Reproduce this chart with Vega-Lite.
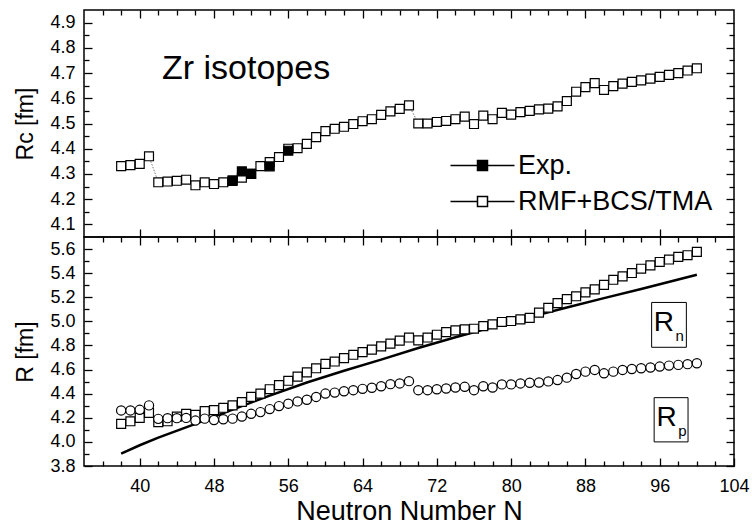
{
  "$schema": "https://vega.github.io/schema/vega-lite/v6.json",
  "padding": {"left": 14, "top": 8, "right": 5, "bottom": 5},
  "bounds": "flush",
  "config": {
    "font": "Liberation Sans",
    "view": {"stroke": "black", "strokeWidth": 1.5},
    "axis": {"domain": false, "grid": false, "tickColor": "black", "tickWidth": 1.3, "labelColor": "black", "labelFontSize": 18, "labelFont": "Liberation Sans", "titleFont": "Liberation Sans", "titleFontWeight": "normal", "titleColor": "black", "titleFontSize": 23, "labelFlush": false, "labelOverlap": false, "minExtent": 0}
  },
  "datasets": {
    "rc": [
      {"N": 38, "Rc": 4.331, "series": "RMF+BCS/TMA"}, {"N": 39, "Rc": 4.335, "series": "RMF+BCS/TMA"}, {"N": 40, "Rc": 4.34, "series": "RMF+BCS/TMA"}, {"N": 41, "Rc": 4.37, "series": "RMF+BCS/TMA"},
      {"N": 42, "Rc": 4.267, "series": "RMF+BCS/TMA"}, {"N": 43, "Rc": 4.27, "series": "RMF+BCS/TMA"}, {"N": 44, "Rc": 4.273, "series": "RMF+BCS/TMA"}, {"N": 45, "Rc": 4.277, "series": "RMF+BCS/TMA"},
      {"N": 46, "Rc": 4.255, "series": "RMF+BCS/TMA"}, {"N": 47, "Rc": 4.267, "series": "RMF+BCS/TMA"}, {"N": 48, "Rc": 4.26, "series": "RMF+BCS/TMA"}, {"N": 49, "Rc": 4.267, "series": "RMF+BCS/TMA"},
      {"N": 50, "Rc": 4.275, "series": "RMF+BCS/TMA"}, {"N": 51, "Rc": 4.285, "series": "RMF+BCS/TMA"}, {"N": 52, "Rc": 4.3, "series": "RMF+BCS/TMA"}, {"N": 53, "Rc": 4.331, "series": "RMF+BCS/TMA"},
      {"N": 54, "Rc": 4.347, "series": "RMF+BCS/TMA"}, {"N": 55, "Rc": 4.367, "series": "RMF+BCS/TMA"}, {"N": 56, "Rc": 4.4, "series": "RMF+BCS/TMA"}, {"N": 57, "Rc": 4.402, "series": "RMF+BCS/TMA"},
      {"N": 58, "Rc": 4.419, "series": "RMF+BCS/TMA"}, {"N": 59, "Rc": 4.446, "series": "RMF+BCS/TMA"}, {"N": 60, "Rc": 4.47, "series": "RMF+BCS/TMA"}, {"N": 61, "Rc": 4.479, "series": "RMF+BCS/TMA"},
      {"N": 62, "Rc": 4.487, "series": "RMF+BCS/TMA"}, {"N": 63, "Rc": 4.498, "series": "RMF+BCS/TMA"}, {"N": 64, "Rc": 4.509, "series": "RMF+BCS/TMA"}, {"N": 65, "Rc": 4.517, "series": "RMF+BCS/TMA"},
      {"N": 66, "Rc": 4.534, "series": "RMF+BCS/TMA"}, {"N": 67, "Rc": 4.548, "series": "RMF+BCS/TMA"}, {"N": 68, "Rc": 4.558, "series": "RMF+BCS/TMA"}, {"N": 69, "Rc": 4.572, "series": "RMF+BCS/TMA"},
      {"N": 70, "Rc": 4.5, "series": "RMF+BCS/TMA"}, {"N": 71, "Rc": 4.5, "series": "RMF+BCS/TMA"}, {"N": 72, "Rc": 4.506, "series": "RMF+BCS/TMA"}, {"N": 73, "Rc": 4.51, "series": "RMF+BCS/TMA"},
      {"N": 74, "Rc": 4.517, "series": "RMF+BCS/TMA"}, {"N": 75, "Rc": 4.527, "series": "RMF+BCS/TMA"}, {"N": 76, "Rc": 4.498, "series": "RMF+BCS/TMA"}, {"N": 77, "Rc": 4.531, "series": "RMF+BCS/TMA"},
      {"N": 78, "Rc": 4.517, "series": "RMF+BCS/TMA"}, {"N": 79, "Rc": 4.542, "series": "RMF+BCS/TMA"}, {"N": 80, "Rc": 4.535, "series": "RMF+BCS/TMA"}, {"N": 81, "Rc": 4.545, "series": "RMF+BCS/TMA"},
      {"N": 82, "Rc": 4.55, "series": "RMF+BCS/TMA"}, {"N": 83, "Rc": 4.556, "series": "RMF+BCS/TMA"}, {"N": 84, "Rc": 4.559, "series": "RMF+BCS/TMA"}, {"N": 85, "Rc": 4.568, "series": "RMF+BCS/TMA"},
      {"N": 86, "Rc": 4.589, "series": "RMF+BCS/TMA"}, {"N": 87, "Rc": 4.626, "series": "RMF+BCS/TMA"}, {"N": 88, "Rc": 4.644, "series": "RMF+BCS/TMA"}, {"N": 89, "Rc": 4.66, "series": "RMF+BCS/TMA"},
      {"N": 90, "Rc": 4.633, "series": "RMF+BCS/TMA"}, {"N": 91, "Rc": 4.648, "series": "RMF+BCS/TMA"}, {"N": 92, "Rc": 4.658, "series": "RMF+BCS/TMA"}, {"N": 93, "Rc": 4.665, "series": "RMF+BCS/TMA"},
      {"N": 94, "Rc": 4.671, "series": "RMF+BCS/TMA"}, {"N": 95, "Rc": 4.678, "series": "RMF+BCS/TMA"}, {"N": 96, "Rc": 4.685, "series": "RMF+BCS/TMA"}, {"N": 97, "Rc": 4.693, "series": "RMF+BCS/TMA"},
      {"N": 98, "Rc": 4.7, "series": "RMF+BCS/TMA"}, {"N": 99, "Rc": 4.71, "series": "RMF+BCS/TMA"}, {"N": 100, "Rc": 4.719, "series": "RMF+BCS/TMA"}
    ],
    "rcexp": [
      {"N": 50, "Rc": 4.272, "series": "Exp."}, {"N": 51, "Rc": 4.31, "series": "Exp."}, {"N": 52, "Rc": 4.3, "series": "Exp."}, {"N": 54, "Rc": 4.33, "series": "Exp."}, {"N": 56, "Rc": 4.392, "series": "Exp."}
    ],
    "rn": [
      {"N": 38, "R": 4.149}, {"N": 39, "R": 4.171}, {"N": 40, "R": 4.199}, {"N": 41, "R": 4.241}, {"N": 42, "R": 4.163}, {"N": 43, "R": 4.171}, {"N": 44, "R": 4.21}, {"N": 45, "R": 4.233},
      {"N": 46, "R": 4.224}, {"N": 47, "R": 4.255}, {"N": 48, "R": 4.264}, {"N": 49, "R": 4.283}, {"N": 50, "R": 4.303}, {"N": 51, "R": 4.331}, {"N": 52, "R": 4.373}, {"N": 53, "R": 4.401},
      {"N": 54, "R": 4.437}, {"N": 55, "R": 4.471}, {"N": 56, "R": 4.507}, {"N": 57, "R": 4.541}, {"N": 58, "R": 4.577}, {"N": 59, "R": 4.611}, {"N": 60, "R": 4.647}, {"N": 61, "R": 4.667},
      {"N": 62, "R": 4.695}, {"N": 63, "R": 4.723}, {"N": 64, "R": 4.745}, {"N": 65, "R": 4.765}, {"N": 66, "R": 4.793}, {"N": 67, "R": 4.815}, {"N": 68, "R": 4.84}, {"N": 69, "R": 4.866},
      {"N": 70, "R": 4.842}, {"N": 71, "R": 4.866}, {"N": 72, "R": 4.889}, {"N": 73, "R": 4.911}, {"N": 74, "R": 4.925}, {"N": 75, "R": 4.933}, {"N": 76, "R": 4.939}, {"N": 77, "R": 4.961},
      {"N": 78, "R": 4.975}, {"N": 79, "R": 4.995}, {"N": 80, "R": 5.003}, {"N": 81, "R": 5.017}, {"N": 82, "R": 5.029}, {"N": 83, "R": 5.073}, {"N": 84, "R": 5.113}, {"N": 85, "R": 5.151},
      {"N": 86, "R": 5.185}, {"N": 87, "R": 5.208}, {"N": 88, "R": 5.241}, {"N": 89, "R": 5.265}, {"N": 90, "R": 5.303}, {"N": 91, "R": 5.345}, {"N": 92, "R": 5.373}, {"N": 93, "R": 5.401},
      {"N": 94, "R": 5.437}, {"N": 95, "R": 5.465}, {"N": 96, "R": 5.493}, {"N": 97, "R": 5.513}, {"N": 98, "R": 5.535}, {"N": 99, "R": 5.549}, {"N": 100, "R": 5.577}
    ],
    "rp": [
      {"N": 38, "R": 4.261}, {"N": 39, "R": 4.261}, {"N": 40, "R": 4.266}, {"N": 41, "R": 4.303}, {"N": 42, "R": 4.191}, {"N": 43, "R": 4.197}, {"N": 44, "R": 4.197}, {"N": 45, "R": 4.199},
      {"N": 46, "R": 4.177}, {"N": 47, "R": 4.193}, {"N": 48, "R": 4.182}, {"N": 49, "R": 4.188}, {"N": 50, "R": 4.193}, {"N": 51, "R": 4.21}, {"N": 52, "R": 4.233}, {"N": 53, "R": 4.247},
      {"N": 54, "R": 4.272}, {"N": 55, "R": 4.297}, {"N": 56, "R": 4.317}, {"N": 57, "R": 4.336}, {"N": 58, "R": 4.35}, {"N": 59, "R": 4.373}, {"N": 60, "R": 4.401}, {"N": 61, "R": 4.409},
      {"N": 62, "R": 4.42}, {"N": 63, "R": 4.429}, {"N": 64, "R": 4.44}, {"N": 65, "R": 4.449}, {"N": 66, "R": 4.462}, {"N": 67, "R": 4.479}, {"N": 68, "R": 4.485}, {"N": 69, "R": 4.504},
      {"N": 70, "R": 4.429}, {"N": 71, "R": 4.429}, {"N": 72, "R": 4.437}, {"N": 73, "R": 4.443}, {"N": 74, "R": 4.451}, {"N": 75, "R": 4.457}, {"N": 76, "R": 4.429}, {"N": 77, "R": 4.462},
      {"N": 78, "R": 4.451}, {"N": 79, "R": 4.477}, {"N": 80, "R": 4.477}, {"N": 81, "R": 4.485}, {"N": 82, "R": 4.491}, {"N": 83, "R": 4.493}, {"N": 84, "R": 4.502}, {"N": 85, "R": 4.513},
      {"N": 86, "R": 4.533}, {"N": 87, "R": 4.563}, {"N": 88, "R": 4.583}, {"N": 89, "R": 4.597}, {"N": 90, "R": 4.569}, {"N": 91, "R": 4.583}, {"N": 92, "R": 4.597}, {"N": 93, "R": 4.605},
      {"N": 94, "R": 4.611}, {"N": 95, "R": 4.617}, {"N": 96, "R": 4.625}, {"N": 97, "R": 4.633}, {"N": 98, "R": 4.639}, {"N": 99, "R": 4.645}, {"N": 100, "R": 4.653}
    ],
    "empirical": [
      {"N": 38, "R": 3.903}, {"N": 40, "R": 3.972}, {"N": 42, "R": 4.035}, {"N": 46, "R": 4.15}, {"N": 50, "R": 4.268}, {"N": 54, "R": 4.384}, {"N": 58, "R": 4.493}, {"N": 62, "R": 4.59},
      {"N": 66, "R": 4.683}, {"N": 70, "R": 4.779}, {"N": 74, "R": 4.868}, {"N": 78, "R": 4.952}, {"N": 82, "R": 5.035}, {"N": 86, "R": 5.115}, {"N": 90, "R": 5.193}, {"N": 94, "R": 5.268}, {"N": 100, "R": 5.387}
    ]
  },
  "spacing": 0,
  "vconcat": [
    {
      "width": 650,
      "height": 227,
      "resolve": {"axis": {"x": "independent", "y": "independent"}},
      "layer": [
        {
          "data": {"name": "rc"},
          "mark": {"type": "line", "stroke": "#555555", "strokeWidth": 0.8, "strokeDash": [1.5, 1.5]},
          "encoding": {
            "x": {"field": "N", "type": "quantitative", "scale": {"domain": [34, 104], "nice": false, "zero": false},
              "axis": {"orient": "bottom", "values": [40, 48, 56, 64, 72, 80, 88, 96], "tickSize": -8, "labels": false, "title": null}},
            "y": {"field": "Rc", "type": "quantitative", "scale": {"domain": [4.05, 4.95], "nice": false, "zero": false},
              "axis": {"orient": "left", "values": [4.1, 4.15, 4.2, 4.25, 4.3, 4.35, 4.4, 4.45, 4.5, 4.55, 4.6, 4.65, 4.7, 4.75, 4.8, 4.85, 4.9],
                "tickSize": {"condition": {"test": "round(datum.value*100) % 10 === 0", "value": -8}, "value": -5},
                "labelExpr": "round(datum.value*100) % 10 === 0 ? format(datum.value, '.1f') : ''",
                "labelPadding": 17, "title": "Rc [fm]", "titlePadding": 12}}
          }
        },
        {
          "data": {"name": "rc"},
          "mark": {"type": "square", "size": 80, "stroke": "black", "strokeWidth": 1.2, "opacity": 1},
          "encoding": {
            "x": {"field": "N", "type": "quantitative", "scale": {"domain": [34, 104], "nice": false, "zero": false},
              "axis": {"orient": "top", "values": [36, 38, 40, 42, 44, 46, 48, 50, 52, 54, 56, 58, 60, 62, 64, 66, 68, 70, 72, 74, 76, 78, 80, 82, 84, 86, 88, 90, 92, 94, 96, 98, 100, 102],
                "tickSize": {"condition": {"test": "datum.value % 8 === 0", "value": -8}, "value": -5}, "labels": false, "title": null}},
            "y": {"field": "Rc", "type": "quantitative", "scale": {"domain": [4.05, 4.95], "nice": false, "zero": false},
              "axis": {"orient": "right", "values": [4.1, 4.15, 4.2, 4.25, 4.3, 4.35, 4.4, 4.45, 4.5, 4.55, 4.6, 4.65, 4.7, 4.75, 4.8, 4.85, 4.9],
                "tickSize": {"condition": {"test": "round(datum.value*100) % 10 === 0", "value": -8}, "value": -5}, "labels": false, "title": null}},
            "fill": {"field": "series", "type": "nominal", "scale": {"domain": ["Exp.", "RMF+BCS/TMA"], "range": ["black", "white"]},
              "legend": {"title": null, "orient": "none", "legendX": 385, "legendY": 142,
                "symbolType": "M-6.4,0H-1M1,0H6.4M-1,-1H1V1H-1Z", "symbolSize": 100, "symbolStrokeColor": "black", "symbolStrokeWidth": 1.5,
                "labelFontSize": 27, "labelFont": "Liberation Sans", "labelColor": "black", "labelOffset": 22, "rowPadding": 8, "labelLimit": 400,
                "encode": {"symbols": {"update": {"stroke": {"value": "black"}, "strokeWidth": {"signal": "datum.value === 'Exp.' ? 2.5 : 1"}}}}}}
          }
        },
        {
          "data": {"name": "rcexp"},
          "mark": {"type": "square", "size": 80, "stroke": "black", "strokeWidth": 1.2, "opacity": 1},
          "encoding": {
            "x": {"field": "N", "type": "quantitative", "axis": null},
            "y": {"field": "Rc", "type": "quantitative", "axis": null},
            "fill": {"field": "series", "type": "nominal"}
          }
        },
        {
          "data": {"values": [{}]},
          "mark": {"type": "text", "fontSize": 34, "font": "Liberation Sans", "align": "left", "baseline": "alphabetic", "color": "black"},
          "encoding": {
            "x": {"datum": 42.4, "type": "quantitative", "axis": null},
            "y": {"datum": 4.678, "type": "quantitative", "axis": null},
            "text": {"value": "Zr isotopes"}
          }
        }
      ]
    },
    {
      "width": 650,
      "height": 229,
      "resolve": {"axis": {"x": "independent", "y": "independent"}},
      "layer": [
        {
          "data": {"name": "empirical"},
          "mark": {"type": "line", "stroke": "black", "strokeWidth": 2.5},
          "encoding": {
            "x": {"field": "N", "type": "quantitative", "scale": {"domain": [34, 104], "nice": false, "zero": false},
              "axis": {"orient": "bottom", "values": [36, 38, 40, 42, 44, 46, 48, 50, 52, 54, 56, 58, 60, 62, 64, 66, 68, 70, 72, 74, 76, 78, 80, 82, 84, 86, 88, 90, 92, 94, 96, 98, 100, 102, 104],
                "tickSize": {"condition": {"test": "datum.value % 8 === 0", "value": -8}, "value": -5},
                "labelExpr": "datum.value % 8 === 0 ? datum.label : ''",
                "labelPadding": 19, "title": "Neutron Number N", "titleFontSize": 27, "titlePadding": 0}},
            "y": {"field": "R", "type": "quantitative", "scale": {"domain": [3.8, 5.7], "nice": false, "zero": false},
              "axis": {"orient": "left", "values": [3.8, 3.9, 4.0, 4.1, 4.2, 4.3, 4.4, 4.5, 4.6, 4.7, 4.8, 4.9, 5.0, 5.1, 5.2, 5.3, 5.4, 5.5, 5.6],
                "tickSize": {"condition": {"test": "round(datum.value*10) % 2 === 0", "value": -8}, "value": -5},
                "labelExpr": "round(datum.value*10) % 2 === 0 ? format(datum.value, '.1f') : ''",
                "labelPadding": 17, "title": "R [fm]", "titlePadding": 12}}
          }
        },
        {
          "data": {"name": "rn"},
          "mark": {"type": "square", "size": 80, "stroke": "black", "strokeWidth": 1.2, "fill": "white", "opacity": 1},
          "encoding": {
            "x": {"field": "N", "type": "quantitative", "scale": {"domain": [34, 104], "nice": false, "zero": false},
              "axis": {"orient": "top", "values": [36, 38, 40, 42, 44, 46, 48, 50, 52, 54, 56, 58, 60, 62, 64, 66, 68, 70, 72, 74, 76, 78, 80, 82, 84, 86, 88, 90, 92, 94, 96, 98, 100, 102],
                "tickSize": {"condition": {"test": "datum.value % 8 === 0", "value": -8}, "value": -5}, "labels": false, "title": null}},
            "y": {"field": "R", "type": "quantitative", "scale": {"domain": [3.8, 5.7], "nice": false, "zero": false},
              "axis": {"orient": "right", "values": [3.8, 3.9, 4.0, 4.1, 4.2, 4.3, 4.4, 4.5, 4.6, 4.7, 4.8, 4.9, 5.0, 5.1, 5.2, 5.3, 5.4, 5.5, 5.6],
                "tickSize": {"condition": {"test": "round(datum.value*10) % 2 === 0", "value": -8}, "value": -5}, "labels": false, "title": null}}
          }
        },
        {
          "data": {"name": "rp"},
          "mark": {"type": "circle", "size": 85, "stroke": "black", "strokeWidth": 1.2, "fill": "white", "opacity": 1},
          "encoding": {
            "x": {"field": "N", "type": "quantitative", "axis": null},
            "y": {"field": "R", "type": "quantitative", "axis": null}
          }
        },
        {
          "data": {"values": [{}]},
          "mark": {"type": "rect", "fill": null, "stroke": "black", "strokeWidth": 1},
          "encoding": {
            "x": {"datum": 95.13, "type": "quantitative", "axis": null}, "x2": {"datum": 98.87},
            "y": {"datum": 4.785, "type": "quantitative", "axis": null}, "y2": {"datum": 5.157}
          }
        },
        {
          "data": {"values": [{}]},
          "mark": {"type": "rect", "fill": null, "stroke": "black", "strokeWidth": 1},
          "encoding": {
            "x": {"datum": 95.4, "type": "quantitative", "axis": null}, "x2": {"datum": 99.05},
            "y": {"datum": 4.0, "type": "quantitative", "axis": null}, "y2": {"datum": 4.367}
          }
        },
        {
          "data": {"values": [{}]},
          "mark": {"type": "text", "fontSize": 28, "align": "left", "baseline": "alphabetic", "color": "black"},
          "encoding": {
            "x": {"datum": 95.37, "type": "quantitative", "axis": null},
            "y": {"datum": 4.919, "type": "quantitative", "axis": null},
            "text": {"value": "R"}
          }
        },
        {
          "data": {"values": [{}]},
          "mark": {"type": "text", "fontSize": 15, "align": "left", "baseline": "alphabetic", "color": "black"},
          "encoding": {
            "x": {"datum": 97.7, "type": "quantitative", "axis": null},
            "y": {"datum": 4.835, "type": "quantitative", "axis": null},
            "text": {"value": "n"}
          }
        },
        {
          "data": {"values": [{}]},
          "mark": {"type": "text", "fontSize": 28, "align": "left", "baseline": "alphabetic", "color": "black"},
          "encoding": {
            "x": {"datum": 95.65, "type": "quantitative", "axis": null},
            "y": {"datum": 4.134, "type": "quantitative", "axis": null},
            "text": {"value": "R"}
          }
        },
        {
          "data": {"values": [{}]},
          "mark": {"type": "text", "fontSize": 15, "align": "left", "baseline": "alphabetic", "color": "black"},
          "encoding": {
            "x": {"datum": 98.0, "type": "quantitative", "axis": null},
            "y": {"datum": 4.05, "type": "quantitative", "axis": null},
            "text": {"value": "p"}
          }
        }
      ]
    }
  ]
}
